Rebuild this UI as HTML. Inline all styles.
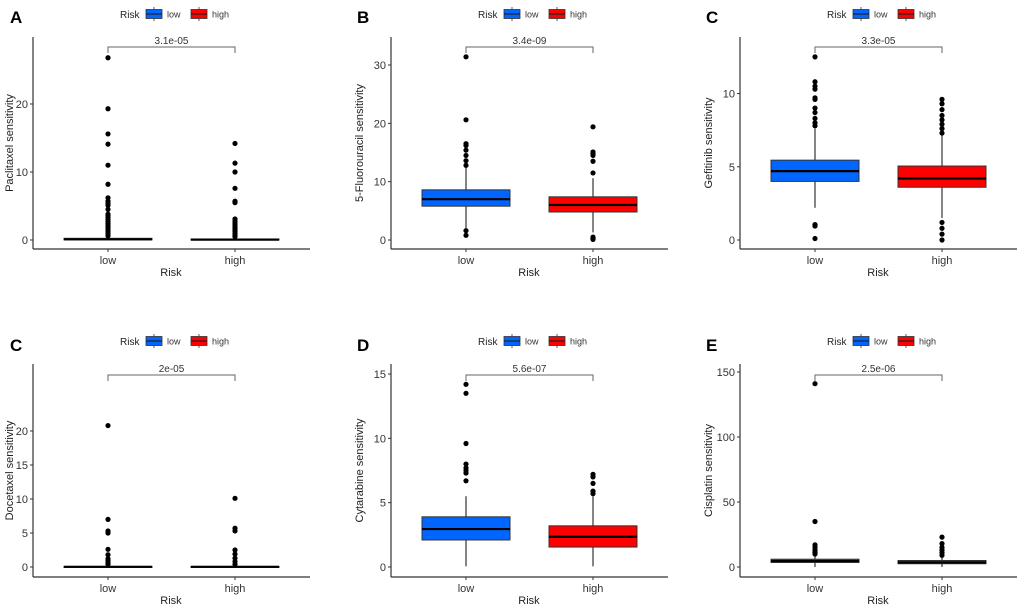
<!DOCTYPE html>
<html><head><meta charset="utf-8"><style>
body{margin:0;background:#fff}
svg{display:block;font-family:"Liberation Sans",Arial,sans-serif}
</style></head><body>
<svg id="chart" width="1020" height="606" viewBox="0 0 1020 606" xmlns="http://www.w3.org/2000/svg"></svg>
<script>
const panelLetters = ["A","B","C","C","D","E"];
const panelTitles = ["Paclitaxel sensitivity","5-Fluorouracil sensitivity","Gefitinib sensitivity","Docetaxel sensitivity","Cytarabine sensitivity","Cisplatin sensitivity"];
const pValues = ["3.1e-05","3.4e-09","3.3e-05","2e-05","5.6e-07","2.5e-06"];
const categories = ["low","high"];
const yTicks = [[0,10,20],[0,10,20,30],[0,5,10],[0,5,10,15,20],[0,5,10,15],[0,50,100,150]];
// box stats: [whiskerLow, q1, median, q3, whiskerHigh]
const lowBoxes = [[0,0.02,0.1,0.25,0.5],[1.8,5.8,7,8.6,12.6],[2.2,4,4.7,5.45,7.6],[0,0.01,0.03,0.08,0.2],[0.05,2.1,2.95,3.9,5.5],[0,3.5,4.5,6,9]];
const highBoxes = [[0,0.01,0.05,0.15,0.3],[1.3,4.8,6,7.4,10.6],[1.5,3.6,4.2,5.05,7.2],[0,0.01,0.03,0.08,0.2],[0.05,1.55,2.35,3.2,5.5],[0,2.5,3.5,5,8]];
const lowOutliers = [
 [26.8,19.3,15.6,14.1,11,8.2,6.2,5.7,5.4,5.1,4.5,3.8,3.6,3.3,3,2.7,2.4,2.1,1.8,1.5,1.2,0.9,0.6],
 [0.8,1.6,12.8,13.6,14.5,15.4,16.2,16.5,20.6,31.4],
 [0.1,0.95,1.05,7.8,8,8.3,8.7,9,9.6,9.7,10.3,10.5,10.8,12.5],
 [20.8,7,5.3,5,2.6,1.8,1.2,0.9,0.6,0.4],
 [6.7,7.3,7.5,7.7,8,9.6,13.5,14.2],
 [10,11,12,13,15,17,35,141]
];
const highOutliers = [
 [14.2,11.3,10,7.6,5.7,5.5,3.1,2.8,2.5,2.2,1.9,1.6,1.3,1,0.7,0.5],
 [0.1,0.3,0.5,11.5,13.5,14.5,14.8,15.1,19.4],
 [0,0.4,0.8,1.2,7.3,7.6,7.9,8.2,8.5,8.9,9.3,9.6],
 [10.1,5.7,5.3,2.5,1.9,1.3,0.8,0.4],
 [5.7,5.9,6.5,7,7.2],
 [9,11,13,15,18,23]
];
const NS="http://www.w3.org/2000/svg";
const svg=document.getElementById('chart');
function mk(tag,attrs,parent,text){const e=document.createElementNS(NS,tag);for(const k in attrs)e.setAttribute(k,attrs[k]);if(text!==undefined)e.textContent=text;(parent||svg).appendChild(e);return e;}
const axisXs=[33,391,740];
const colors=["#0066ff","#ff0000"];
for(let p=0;p<6;p++){
 const ax=axisXs[p%3];
 const top=p<3;
 const y0=top?240:567, axisBottom=top?249:577, axisTop=top?37:364;
 let unit;
 if(p===0)unit=(239-103)/20; else if(p===1)unit=(242-67)/30; else if(p===2)unit=(240-93.5)/10;
 else if(p===3)unit=(567-431)/20; else if(p===4)unit=(567-374)/15; else unit=(567-372)/150;
 const ys=v=>y0-v*unit;
 const xs=[ax+75,ax+202];
 const g=mk('g',{},svg);
 
 
 const lt=mk('text',{x:ax-(p%3===0?23:34),y:top?23:351,'font-size':17,'font-weight':'bold'},g,panelLetters[p]);
 
 const ly=top?14:341, lx=ax+87;
 const lg=mk('g',{},g);
 
 mk('text',{x:lx,y:ly+4,'font-size':10,fill:'#222'},lg,'Risk');
 const lbls=["low","high"];
 [0,1].forEach(i=>{
  const bx=lx+26+i*45;
  const e=mk('g',{},lg);
  
  mk('line',{x1:bx+8,x2:bx+8,y1:ly-7,y2:ly+7,stroke:'#333','stroke-width':0.8},e);
  mk('rect',{x:bx,y:ly-4.5,width:16,height:9,fill:colors[i],stroke:'#333','stroke-width':0.8},e);
  mk('line',{x1:bx,x2:bx+16,y1:ly,y2:ly,stroke:'#222','stroke-width':1.2},e);
  mk('text',{x:bx+21,y:ly+3.5,'font-size':9,fill:'#333'},e,categories[i]);
 });
 const axl=mk('line',{x1:ax,x2:ax,y1:axisTop,y2:axisBottom,stroke:'#333','stroke-width':1.2},g);
 
 const xl=mk('line',{x1:ax,x2:ax+277,y1:axisBottom,y2:axisBottom,stroke:'#333','stroke-width':1.2},g);
 
 yTicks[p].forEach(t=>{
  mk('line',{x1:ax-3,x2:ax,y1:ys(t),y2:ys(t),stroke:'#333'},g);
  const tt=mk('text',{x:ax-5,y:ys(t)+4,'font-size':11,'text-anchor':'end',fill:'#333'},g,String(t));
  
 });
 categories.forEach((c,i)=>{
  mk('line',{x1:xs[i],x2:xs[i],y1:axisBottom,y2:axisBottom+3,stroke:'#333'},g);
  const tt=mk('text',{x:xs[i],y:axisBottom+15,'font-size':11,'text-anchor':'middle',fill:'#333'},g,c);
  
 });
 const xt=mk('text',{x:ax+138,y:axisBottom+27,'font-size':11,'text-anchor':'middle',fill:'#222'},g,'Risk');
 
 const ytx=ax-(p%3===0?20:28), ytyc=(axisTop+axisBottom)/2;
 const yt=mk('text',{x:ytx,y:ytyc,'font-size':11,'text-anchor':'middle',fill:'#222',transform:`rotate(-90 ${ytx} ${ytyc})`},g,panelTitles[p]);
 
 [lowBoxes[p],highBoxes[p]].forEach((b,i)=>{
  const bg=mk('g',{},g);
  
  mk('line',{x1:xs[i],x2:xs[i],y1:ys(b[0]),y2:ys(b[4]),stroke:'#333','stroke-width':1.2},bg);
  const h=Math.max(ys(b[1])-ys(b[3]),1);
  mk('rect',{x:xs[i]-44,y:ys(b[3]),width:88,height:h,fill:colors[i],stroke:'#333','stroke-width':1},bg);
  mk('line',{x1:xs[i]-44,x2:xs[i]+44,y1:ys(b[2]),y2:ys(b[2]),stroke:'#000','stroke-width':2.2},bg);
 });
 [lowOutliers[p],highOutliers[p]].forEach((arr,i)=>{
  arr.forEach(v=>{
   const c=mk('circle',{cx:xs[i],cy:ys(v),r:2.6,fill:'#000'},g);
   
  });
 });
 const by=top?47:375;
 const br=mk('path',{d:`M${xs[0]} ${by+6}V${by}H${xs[1]}V${by+6}`,fill:'none',stroke:'#666','stroke-width':1},g);
 
 const pt=mk('text',{x:(xs[0]+xs[1])/2,y:by-3,'font-size':10,'text-anchor':'middle',fill:'#333'},g,pValues[p]);
 
}
</script>
</body></html>
